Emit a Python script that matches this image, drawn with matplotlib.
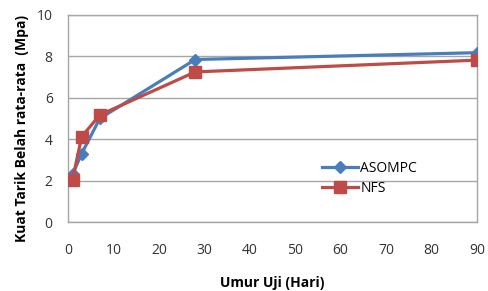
import matplotlib
matplotlib.use("Agg")
import matplotlib.pyplot as plt
import numpy as np

days = [1, 3, 7, 28, 90]
asompc = [2.3, 3.3, 5.0, 7.85, 8.18]
nfs = [2.05, 4.12, 5.17, 7.25, 7.82]

xticks = np.arange(0, 100, 10)
yticks = np.arange(0, 12, 2)

plt.rcParams['font.family'] = ['Open Sans', 'DejaVu Sans']
TICK_FONTSIZE = 10

fig = plt.figure(figsize=(4.89, 2.91), dpi=100)
ax = fig.add_axes([68/489, 1-222/291, (477-68)/489, (222-15)/291])

ax.plot(days, asompc, color='#4A7EBB', linewidth=2.3, marker='D', markersize=6.5,
        label='ASOMPC', zorder=3)
ax.plot(days, nfs, color='#BE4B48', linewidth=2.3, marker='s', markersize=9,
        label='NFS', zorder=3)

ax.set_xlim([0, 90])
ax.set_ylim([0, 10])
ax.set_xticks(xticks)
ax.set_yticks(yticks)
ax.tick_params(labelsize=TICK_FONTSIZE, length=0, colors='#333333')
ax.tick_params(axis='y', pad=11)
ax.tick_params(axis='x', pad=15)
ax.yaxis.grid(True, color='#A6A6A6', linewidth=1)
ax.set_axisbelow(True)
for s in ax.spines.values():
  s.set_color('#A6A6A6')
  s.set_linewidth(1)

ax.set_xlabel("Umur Uji (Hari)", fontsize=10, fontweight='bold', labelpad=13)
ax.set_ylabel("Kuat Tarik Belah rata-rata  (Mpa)", fontsize=10, fontweight='bold')
ax.yaxis.set_label_coords(-0.095, 0.45)

ax.legend(loc='upper left', bbox_to_anchor=(322/489, 1-161/291), bbox_transform=fig.transFigure,
          frameon=False, fontsize=10, handlelength=2.6, handletextpad=0.15,
          labelspacing=0.35, borderpad=0, borderaxespad=0)

fig.savefig("out.png", dpi=100)
